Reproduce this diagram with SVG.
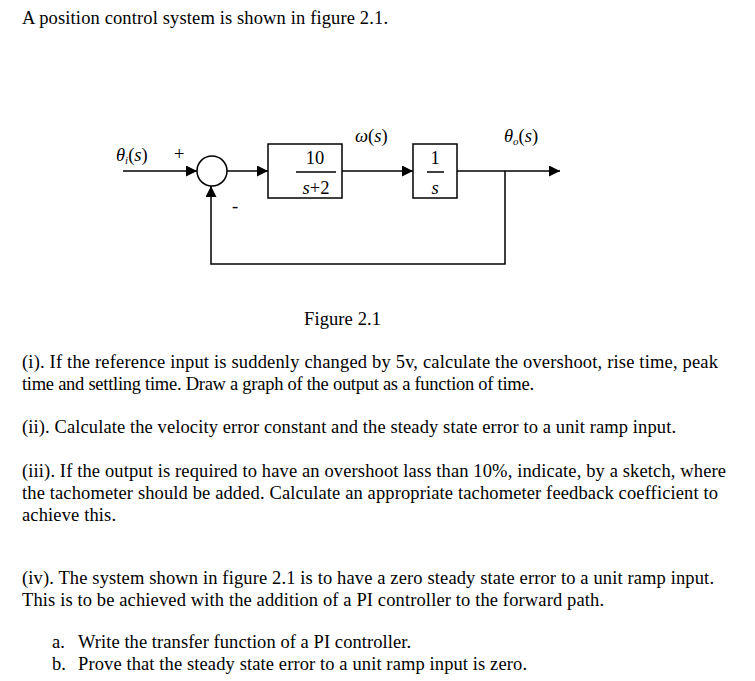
<svg xmlns="http://www.w3.org/2000/svg" width="755" height="681" viewBox="0 0 755 681">
<style>
text{font-family:"Liberation Serif",serif;font-size:18.5px;fill:#000}
.m{font-style:italic}
.l{stroke:#000;stroke-width:1.5;fill:none}
</style>
<defs><marker id="a" viewBox="0 0 10 10" refX="10" refY="5" markerWidth="11" markerHeight="11" markerUnits="userSpaceOnUse" orient="auto"><path d="M0,0L10,5L0,10z" fill="#000"/></marker></defs>
<rect width="755" height="681" fill="#fff"/>
<text x="22" y="24" textLength="366">A position control system is shown in figure 2.1.</text>
<g id="sum"><circle class="l" cx="212" cy="171" r="15"/></g>
<g id="g1"><rect class="l" x="268" y="144" width="74" height="54"/><text x="315" y="164" text-anchor="middle">10</text><line class="l" x1="296" y1="172" x2="336" y2="172" stroke-width="1"/><text class="m" x="316" y="194" text-anchor="middle">s<tspan font-style="normal">+2</tspan></text></g>
<g id="g2"><rect class="l" x="413" y="144" width="44" height="54"/><text x="435" y="164" text-anchor="middle">1</text><line class="l" x1="427" y1="172" x2="444" y2="172" stroke-width="1"/><text class="m" x="435" y="194" text-anchor="middle">s</text></g>
<g id="connectors">
<path class="l" d="M123,171H197" marker-end="url(#a)"/>
<path class="l" d="M227,171H268" marker-end="url(#a)"/>
<path class="l" d="M342,171H413" marker-end="url(#a)"/>
<path class="l" d="M457,171H560" marker-end="url(#a)"/>
<path class="l" d="M505,171V264H211V186" marker-end="url(#a)"/>
</g>
<text class="m" x="116" y="161">θ<tspan font-size="11" dy="3">i</tspan><tspan dy="-3" font-style="normal">(</tspan>s<tspan font-style="normal">)</tspan></text>
<text x="174" y="160">+</text>
<text x="232" y="212">-</text>
<text class="m" x="355" y="142">ω<tspan font-style="normal">(</tspan>s<tspan font-style="normal">)</tspan></text>
<text class="m" x="504" y="142">θ<tspan font-size="11" dy="3">o</tspan><tspan dy="-3" font-style="normal">(</tspan>s<tspan font-style="normal">)</tspan></text>
<text x="304" y="325" textLength="77">Figure 2.1</text>
<text x="22" y="368" textLength="696">(i). If the reference input is suddenly changed by 5v, calculate the overshoot, rise time, peak</text>
<text x="22" y="390" textLength="512">time and settling time. Draw a graph of the output as a function of time.</text>
<text x="22" y="433" textLength="654">(ii). Calculate the velocity error constant and the steady state error to a unit ramp input.</text>
<text x="22" y="477" textLength="704">(iii). If the output is required to have an overshoot lass than 10%, indicate, by a sketch, where</text>
<text x="22" y="499" textLength="696">the tachometer should be added. Calculate an appropriate tachometer feedback coefficient to</text>
<text x="22" y="521" textLength="94">achieve this.</text>
<text x="22" y="584" textLength="692">(iv). The system shown in figure 2.1 is to have a zero steady state error to a unit ramp input.</text>
<text x="22" y="606" textLength="582">This is to be achieved with the addition of a PI controller to the forward path.</text>
<text x="52" y="648">a.</text><text x="78" y="648" textLength="333">Write the transfer function of a PI controller.</text>
<text x="52" y="670">b.</text><text x="78" y="670" textLength="449">Prove that the steady state error to a unit ramp input is zero.</text>
</svg>
